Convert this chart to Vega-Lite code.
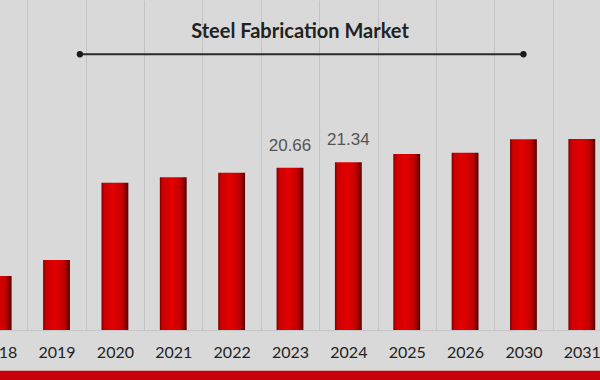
{
  "$schema": "https://vega.github.io/schema/vega-lite/v6.json",
  "width": 600,
  "height": 330,
  "autosize": {"type": "none"},
  "padding": {"left": 0, "top": 0, "right": 0, "bottom": 50},
  "background": "#d9d9d9",
  "config": {"view": {"stroke": null}},
  "title": {
    "text": "Steel Fabrication Market",
    "font": "Lato",
    "fontSize": 20,
    "fontWeight": "bold",
    "color": "#222222",
    "anchor": "middle",
    "frame": "group",
    "offset": -58,
    "baseline": "alphabetic"
  },
  "data": {
    "values": [
      {"year": "2018", "value": 6.87},
      {"year": "2019", "value": 8.91},
      {"year": "2020", "value": 18.75},
      {"year": "2021", "value": 19.44},
      {"year": "2022", "value": 20.02},
      {"year": "2023", "value": 20.66},
      {"year": "2024", "value": 21.34},
      {"year": "2025", "value": 22.40},
      {"year": "2026", "value": 22.57},
      {"year": "2030", "value": 24.28},
      {"year": "2031", "value": 24.30}
    ]
  },
  "layer": [
    {
      "data": {"values": [{}]},
      "mark": {"type": "rect", "color": "#c8000a"},
      "encoding": {
        "y": {"datum": -5.2, "type": "quantitative", "scale": {"domain": [0, 42], "nice": false, "zero": true}, "axis": null},
        "y2": {"datum": -6.7}
      }
    },
    {
      "mark": {
        "type": "bar",
        "width": {"band": 0.46},
        "color": {
          "gradient": "linear",
          "x1": 0, "x2": 1, "y1": 0, "y2": 0,
          "stops": [
            {"offset": 0, "color": "#7a0000"},
            {"offset": 0.1, "color": "#cc0000"},
            {"offset": 0.45, "color": "#e20000"},
            {"offset": 0.78, "color": "#c20000"},
            {"offset": 1, "color": "#5c0000"}
          ]
        }
      },
      "encoding": {
        "x": {
          "field": "year",
          "type": "ordinal",
          "sort": null,
          "scale": {"range": [-31, 611], "paddingInner": 0, "paddingOuter": 0},
          "axis": {
            "title": null,
            "labelFont": "Lato",
            "labelFontSize": 16,
            "labelColor": "#222222",
            "labelAngle": 0,
            "ticks": false,
            "tickSize": 0,
            "tickBand": "extent",
            "labelPadding": 27,
            "labelBaseline": "alphabetic",
            "grid": true,
            "gridColor": "#c3c3c3",
            "gridWidth": 1,
            "domainColor": "#c6c6c6"
          }
        },
        "y": {"field": "value", "type": "quantitative", "scale": {"domain": [0, 42], "nice": false, "zero": true}, "axis": null}
      }
    },
    {
      "transform": [{"filter": "datum.year == '2023' || datum.year == '2024'"}],
      "mark": {"type": "text", "font": "Liberation Sans", "fontSize": 17, "color": "#555555", "baseline": "alphabetic", "dy": -17},
      "encoding": {
        "x": {"field": "year", "type": "ordinal", "sort": null},
        "y": {"field": "value", "type": "quantitative"},
        "text": {"field": "value", "type": "quantitative", "format": ".2f"}
      }
    },
    {
      "data": {"values": [{}]},
      "mark": {"type": "rule", "color": "#2a2a2a", "strokeWidth": 2},
      "encoding": {
        "x": {"datum": "2019", "type": "ordinal", "bandPosition": 0.9},
        "x2": {"datum": "2030"},
        "y": {"datum": 35.1, "type": "quantitative"}
      }
    },
    {
      "data": {"values": [{}]},
      "mark": {"type": "point", "filled": true, "size": 40, "color": "#1a1a1a", "opacity": 1},
      "encoding": {
        "x": {"datum": "2019", "type": "ordinal", "bandPosition": 0.9},
        "y": {"datum": 35.1, "type": "quantitative"}
      }
    },
    {
      "data": {"values": [{}]},
      "mark": {"type": "point", "filled": true, "size": 40, "color": "#1a1a1a", "opacity": 1},
      "encoding": {
        "x": {"datum": "2030", "type": "ordinal"},
        "y": {"datum": 35.1, "type": "quantitative"}
      }
    }
  ]
}
